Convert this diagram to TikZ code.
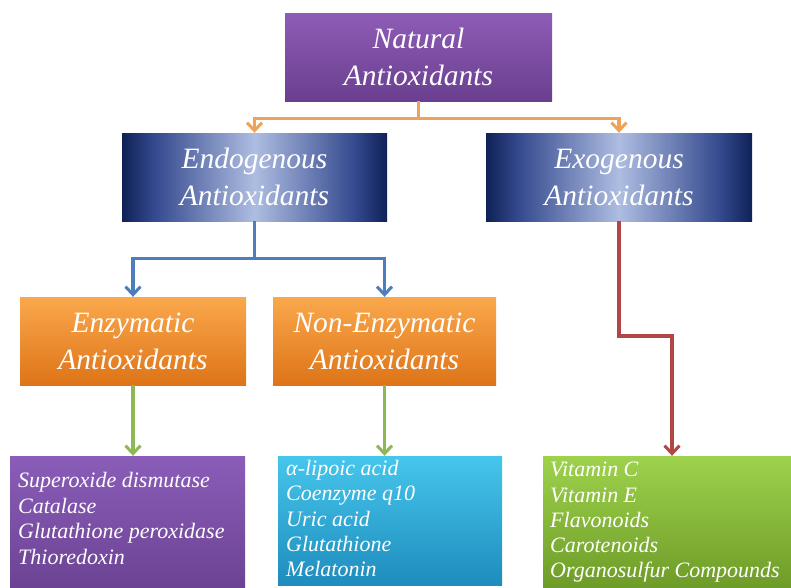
\documentclass[tikz,border=0pt]{standalone}
\usepackage{fontspec}
\setmainfont{Liberation Serif}
\usetikzlibrary{arrows.meta}
\definecolor{natTop}{HTML}{8E5CB6}
\definecolor{natBot}{HTML}{6A3F8F}
\definecolor{navyEdge}{HTML}{0F2157}
\definecolor{navyIn}{HTML}{34498E}
\definecolor{navyMid}{HTML}{AEBDE1}
\definecolor{orTop}{HTML}{FAA84C}
\definecolor{orBot}{HTML}{DE7418}
\definecolor{puTop}{HTML}{8A5DB8}
\definecolor{puBot}{HTML}{6C4394}
\definecolor{cyTop}{HTML}{46C6EC}
\definecolor{cyBot}{HTML}{1E8CBD}
\definecolor{grTop}{HTML}{9ED24C}
\definecolor{grBot}{HTML}{6E9C28}
\definecolor{lnOrange}{HTML}{EFA25A}
\definecolor{lnBlue}{HTML}{4D7DBD}
\definecolor{lnGreen}{HTML}{8DB955}
\definecolor{lnRed}{HTML}{B04646}
\pgfdeclarehorizontalshading{navyshade}{100bp}{color(0bp)=(navyEdge); color(25bp)=(navyEdge); color(31bp)=(navyIn); color(50bp)=(navyMid); color(69bp)=(navyIn); color(75bp)=(navyEdge); color(100bp)=(navyEdge)}
\tikzset{
  titlebox/.style={minimum width=#1, minimum height=88, inner sep=0, align=center,
    text=white, font=\fontsize{29.5}{37}\selectfont\itshape},
  navybox/.style={shade, shading=navyshade},
  listtext/.style={anchor=north west, inner sep=0, align=left, text=white,
    font=\fontsize{22}{25.6}\selectfont\itshape},
  listbox/.style={inner sep=0},
  conn/.style={line width=3.4, -{Straight Barb[length=8,width=15,line width=3]}},
}
\begin{document}
\begin{tikzpicture}[x=1pt,y=-1pt]
\useasboundingbox (0,0) rectangle (791,587);
% title boxes
\node[titlebox=267, top color=natTop, bottom color=natBot] (nat) at (418.5,57) {Natural\\Antioxidants};
\node[titlebox=265, navybox] (endo) at (254.5,177) {Endogenous\\Antioxidants};
\node[titlebox=266, navybox] (exo) at (619,177) {Exogenous\\Antioxidants};
\node[titlebox=226, top color=orTop, bottom color=orBot] (enz) at (133,341) {Enzymatic\\Antioxidants};
\node[titlebox=223, top color=orTop, bottom color=orBot] (nenz) at (384.5,341) {Non-Enzymatic\\Antioxidants};
% list boxes
\node[listbox, minimum width=235, minimum height=131, top color=puTop, bottom color=puBot] (pbox) at (127.5,521.5) {};
\node[listbox, minimum width=224, minimum height=129, top color=cyTop, bottom color=cyBot] (cbox) at (390,520.5) {};
\node[listbox, minimum width=248, minimum height=131, top color=grTop, bottom color=grBot] (gbox) at (667,521.5) {};
\node[listtext] (ptext) at (18,472) {Superoxide dismutase\\Catalase\\Glutathione peroxidase\\Thioredoxin};
\node[listtext, font=\fontsize{22}{25.3}\selectfont\itshape] (ctext) at (286,460) {α-lipoic acid\\Coenzyme q10\\Uric acid\\Glutathione\\Melatonin};
\node[listtext, font=\fontsize{22}{25.3}\selectfont\itshape] (gtext) at (550,462) {Vitamin C\\Vitamin E\\Flavonoids\\Carotenoids\\Organosulfur Compounds};
% connectors
\draw[conn, lnOrange] (nat.south) -- ++(0,17) -| (endo.north);
\draw[conn, lnOrange] (nat.south) -- ++(0,17) -| (exo.north);
\draw[conn, lnBlue] (endo.south) -- ++(0,37) -| (enz.north);
\draw[conn, lnBlue] (endo.south) -- ++(0,37) -| (nenz.north);
\draw[conn, lnGreen] (enz.south) -- (enz.south |- pbox.north);
\draw[conn, lnGreen] (nenz.south) -- (nenz.south |- cbox.north);
\coordinate (rbend) at (672,336);
\draw[conn, lnRed] (exo.south) |- (rbend) -- (rbend |- gbox.north);
\end{tikzpicture}
\end{document}
